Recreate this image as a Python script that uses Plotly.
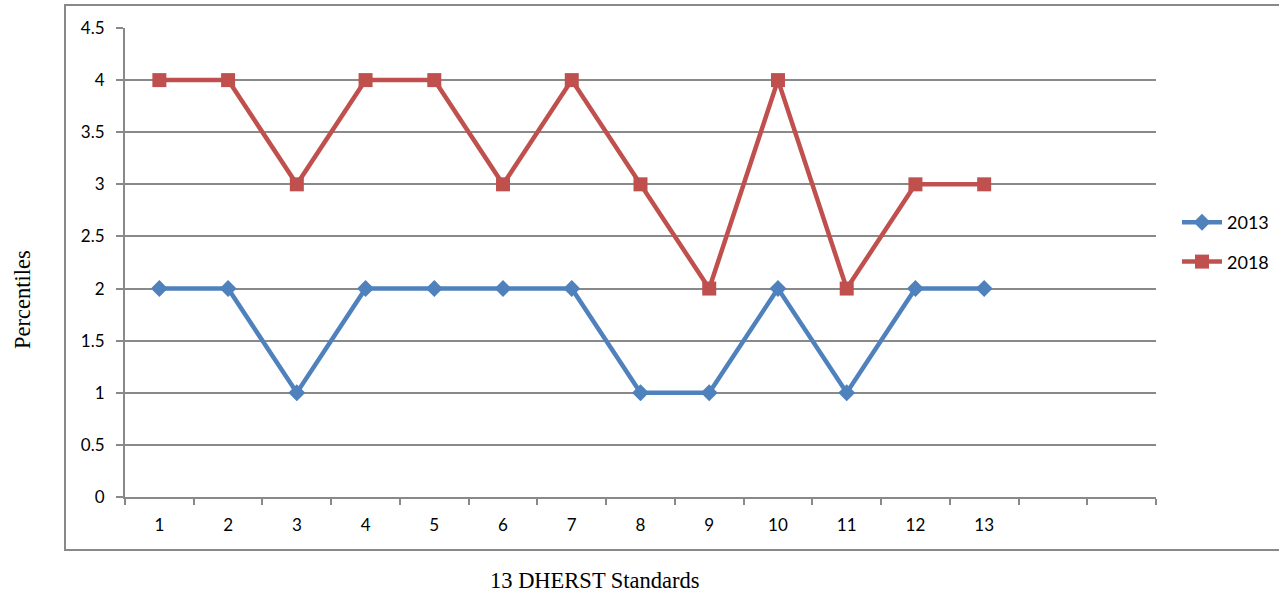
import plotly.graph_objects as go

categories = [1, 2, 3, 4, 5, 6, 7, 8, 9, 10, 11, 12, 13]
values_2013 = [2, 2, 1, 2, 2, 2, 2, 1, 1, 2, 1, 2, 2]
values_2018 = [4, 4, 3, 4, 4, 3, 4, 3, 2, 4, 2, 3, 3]
y_ticks = [0, 0.5, 1, 1.5, 2, 2.5, 3, 3.5, 4, 4.5]
y_tick_labels = ["0", "0.5", "1", "1.5", "2", "2.5", "3", "3.5", "4", "4.5"]

W, H = 1279, 595
L, R, T, B = 125, 1156, 28, 497

fig = go.Figure()
fig.add_trace(go.Scatter(
    x=categories, y=values_2013, name="2013", mode="lines+markers", legendgroup="a",
    line=dict(color="#4F81BD", width=4.5),
    marker=dict(symbol="diamond", size=13, color="#4F81BD"),
))
fig.add_trace(go.Scatter(
    x=categories, y=values_2018, name="2018", mode="lines+markers", legendgroup="b",
    line=dict(color="#C0504D", width=4.5),
    marker=dict(symbol="square", size=14, color="#C0504D"),
))

tick_font = dict(family="Lato, Open Sans, sans-serif", size=17, color="#000000")

fig.update_xaxes(
    range=[0.5, 15.5], tickmode="array", tickvals=categories,
    ticktext=[str(c) for c in categories], ticks="",
    showgrid=False, zeroline=False, showline=True, linecolor="#898989", linewidth=2,
    tickfont=tick_font, ticklabelstandoff=12, automargin=False,
    minor=dict(tickmode="linear", tick0=0.5, dtick=1, ticks="outside", ticklen=6,
               tickcolor="#898989", tickwidth=2, showgrid=False),
)
fig.update_yaxes(
    range=[0, 4.5], tickmode="array", tickvals=y_ticks, ticktext=y_tick_labels,
    ticks="outside", ticklen=7, tickcolor="#898989", tickwidth=2,
    showgrid=True, gridcolor="#898989", gridwidth=1.5, zeroline=False,
    showline=True, linecolor="#898989", linewidth=2, automargin=False,
    tickfont=tick_font, ticklabelstandoff=8,
)

pw, ph = R - L, B - T
fig.add_shape(type="rect", xref="paper", yref="paper",
              x0=(65 - L) / pw, x1=(1290 - L) / pw,
              y0=(B - 550) / ph, y1=(B - 5) / ph,
              line=dict(color="#898989", width=2), fillcolor="rgba(0,0,0,0)", layer="below")

title_font = dict(family="Liberation Serif, DejaVu Serif, serif", size=22.5, color="#000000")
fig.add_annotation(text="13 DHERST Standards", xref="paper", yref="paper",
                   x=(595 - L) / pw, y=(B - 580) / ph, showarrow=False,
                   xanchor="center", yanchor="middle", font=title_font)
fig.add_annotation(text="Percentiles", xref="paper", yref="paper",
                   x=(22 - L) / pw, y=(B - 300) / ph, showarrow=False, textangle=-90,
                   xanchor="center", yanchor="middle", font=title_font)

fig.update_layout(
    width=W, height=H,
    margin=dict(l=L, r=W - R, t=T, b=H - B, autoexpand=False),
    paper_bgcolor="white", plot_bgcolor="white",
    showlegend=True,
    legend=dict(x=(1177 - L) / pw, y=(B - 242) / ph, xanchor="left", yanchor="middle",
                font=dict(family="Lato, Open Sans, sans-serif", size=18, color="#000000"),
                bgcolor="rgba(0,0,0,0)", tracegroupgap=13, itemwidth=40),
)

fig.write_html("out.html", config={"displayModeBar": False},
               post_script="document.body.style.margin='0';")
